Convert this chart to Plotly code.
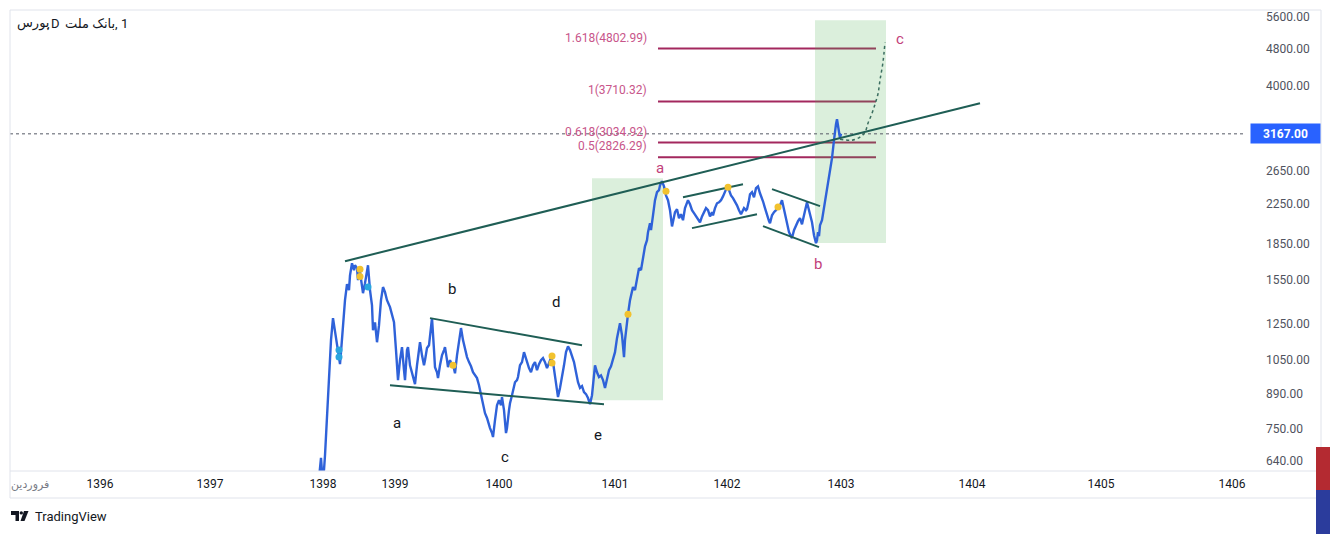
import math
import plotly.graph_objects as go

# ---------------- data ----------------
# time axis is a bar index (TradingView style time scale)
price_bar = [309, 311, 312, 314, 315, 317, 319, 321, 323, 325, 327, 329, 330, 331, 333, 335, 337, 339, 340, 342,
             344, 345, 347, 348, 350, 352, 353, 355, 357, 358, 360, 362, 363, 365, 367, 369, 371, 373, 375, 377,
             380, 382, 384, 386, 388, 390, 392, 394, 395, 397, 398, 400, 402, 405, 407, 409, 410, 412, 414, 415,
             417, 419, 421, 422, 424, 425, 427, 428, 430, 432, 434, 435, 437, 438, 440, 442, 443, 445, 447, 449,
             451, 453, 455, 457, 459, 461, 463, 465, 467, 469, 471, 473, 475, 477, 478, 480, 482, 483, 485, 487,
             489, 491, 492, 494, 496, 497, 499, 500, 502, 503, 505, 507, 508, 510, 512, 514, 515, 517, 519, 521,
             523, 525, 527, 529, 531, 533, 535, 537, 539, 541, 543, 545, 547, 548, 550, 552, 554, 556, 558, 560,
             562, 564, 566, 568, 570, 572, 574, 576, 578, 580, 582, 584, 585, 587, 589, 591, 593, 595, 597, 599,
             601, 603, 605, 607, 609, 610, 612, 613, 614, 615, 617, 618, 620, 622, 623, 625, 627, 629, 631, 633,
             635, 637, 638, 640, 641, 643, 645, 647, 649, 650, 652, 654, 656, 658, 660, 662, 664, 665, 667, 669,
             671, 673, 675, 677, 678, 680, 682, 684, 686, 688, 690, 692, 694, 696, 698, 700, 702, 703, 705, 707,
             709, 711, 713, 715, 717, 719, 721, 723, 725, 727, 729, 731, 732, 734, 736, 737, 739, 740, 742, 744,
             746, 748, 750, 752, 753, 755, 757, 759, 760, 762, 764, 766, 768, 770, 772, 774, 776, 777, 779, 781,
             782, 784, 786, 788, 790, 792, 794, 796, 797, 799, 801, 802, 804, 806, 807, 808, 809, 810, 812, 814,
             816, 817, 819, 821, 822, 824, 825, 826, 827, 828, 829, 830, 831]
price_val = [588, 650, 607, 613, 658, 782, 927, 1156, 1287, 1214, 1127, 1068, 1028, 1090, 1261, 1405, 1519, 1476, 1586, 1683,
             1627, 1666, 1643, 1550, 1611, 1511, 1454, 1527, 1627, 1666, 1476, 1370, 1214, 1261, 1144, 1242, 1405, 1498, 1461, 1405,
             1358, 1305, 1261, 1101, 951, 1048, 1117, 998, 951, 1101, 1117, 1022, 988, 932, 1022, 1127, 1144, 1073, 1022, 1048,
             1112, 1127, 1214, 1287, 1101, 1013, 988, 960, 1022, 1073, 1101, 1117, 1048, 1013, 1048, 1022, 1028, 983, 1073, 1156,
             1226, 1156, 1101, 1064, 1038, 1017, 988, 973, 960, 927, 883, 841, 809, 790, 775, 752, 734, 720, 782, 841,
             862, 841, 875, 821, 734, 752, 821, 849, 883, 906, 941, 951, 965, 1022, 1038, 1090, 1073, 1038, 1008, 988,
             1022, 1038, 998, 1028, 1048, 1059, 1038, 1008, 1038, 1059, 1038, 973, 897, 875, 915, 960, 1022, 1090, 1121, 1101,
             1068, 1038, 988, 941, 915, 923, 897, 888, 871, 845, 883, 988, 1022, 988, 965, 973, 951, 915, 951, 998,
             1017, 1048, 1090, 1167, 1214, 1255, 1184, 1090, 1064, 1156, 1287, 1312, 1405, 1461, 1498, 1476, 1565, 1643, 1627, 1726,
             1828, 1884, 1959, 2046, 1978, 2127, 2290, 2381, 2405, 2463, 2513, 2450, 2345, 2290, 2181, 2015, 2127, 2160, 2192, 2098,
             2138, 2077, 2203, 2267, 2290, 2245, 2181, 2149, 2116, 2077, 2056, 2116, 2160, 2203, 2181, 2116, 2160, 2127, 2203, 2256,
             2267, 2290, 2333, 2381, 2441, 2405, 2345, 2313, 2278, 2233, 2181, 2138, 2160, 2203, 2181, 2192, 2290, 2357, 2381, 2324,
             2429, 2450, 2369, 2313, 2278, 2203, 2127, 2067, 2046, 2127, 2160, 2181, 2214, 2233, 2290, 2181, 2077, 2025, 1959, 1920,
             1903, 1978, 2025, 2067, 2098, 2036, 2127, 2233, 2267, 2181, 2098, 2056, 1929, 1856, 1884, 1959, 1920, 2025, 2077, 2203,
             2333, 2405, 2550, 2715, 2812, 3070, 3256, 3320, 3402, 3302, 3192, 3100, 3167]
last_price = 3167.00

year_bar = [90, 200, 313, 385, 489, 605, 717, 831, 962, 1091, 1222]
year_lbl = ["1396", "1397", "1398", "1399", "1400", "1401", "1402", "1403", "1404", "1405", "1406"]

ytick_val = [640, 750, 890, 1050, 1250, 1550, 1850, 2250, 2650, 3250, 4000, 4800, 5600]

fib_lbl = ["1.618(4802.99)", "1(3710.32)", "0.618(3034.92)", "0.5(2826.29)"]
fib_price = [4802.99, 3710.32, 3034.92, 2826.29]
fib_bar = [648, 866]

# green boxes: (bar0, bar1), (price_low, price_high)
box_bar = [(582, 653), (805, 876)]
box_price = [(862, 2550), (1857, 5518)]

# drawn trend/channel lines: ((bar, price), (bar, price))
trend_lines = [
    ((335, 1700), (970, 3678)),   # long rising trend line
    ((420, 1287), (572, 1127)),   # triangle upper
    ((380, 927), (594, 845)),     # triangle lower
    ((673, 2324), (733, 2475)),   # channel 1 upper
    ((682, 1998), (747, 2138)),   # channel 1 lower
    ((762, 2417), (810, 2225)),   # channel 2 upper
    ((753, 2018), (809, 1821)),   # channel 2 lower
]

proj_bar = [830, 842, 850, 855, 858, 862, 865, 868, 870, 873, 875]
proj_val = [3085, 3070, 3116, 3192, 3335, 3500, 3660, 3850, 4117, 4500, 4955]

yellow_bar = [350, 350, 443, 542, 542, 618, 656, 718, 768]
yellow_val = [1635, 1578, 1022, 1069, 1033, 1311, 2393, 2441, 2214]
cyan_bar = [329, 329, 358]
cyan_val = [1101, 1064, 1498]

wave_lbl = ["a", "b", "c", "d", "e"]
wave_bar = [387, 442, 495, 546, 588]
wave_val = [771, 1483, 653, 1391, 727]

abc_lbl = ["a", "b", "c"]
abc_bar = [650, 808, 890]
abc_val = [2678, 1675, 5046]

# chart legend pieces, left to right as shown: بورس ,Dبانک ملت, 1
legend_exchange = "بورس"
legend_interval = "D"
legend_symbol = "بانک ملت"
legend_num = "1"

# ---------------- styles ----------------
W, H = 1330, 534
ML, MR, MT, MB = 10, 85, 10, 63
PW = W - ML - MR
PH = H - MT - MB
BLUE = "#2f62d9"
TEAL = "#1f5e55"
FIB = "#a3285e"
FIBTXT = "#c8558a"
FRAME = "#e0e3eb"
FONT = "Roboto, 'DejaVu Sans', sans-serif"
TXT = "#131722"


def px_x(px):
    return (px - ML) / PW


def px_y(py):
    return (H - MB - py) / PH


fig = go.Figure()

# fib levels
fx, fy = [], []
for p in fib_price:
    fx += [fib_bar[0], fib_bar[1], None]
    fy += [p, p, None]
fig.add_trace(go.Scatter(x=fx, y=fy, mode="lines", line=dict(color=FIB, width=2), hoverinfo="skip"))

# green boxes
for (b0, b1), (p0, p1) in zip(box_bar, box_price):
    fig.add_trace(go.Scatter(x=[b0, b1, b1, b0, b0], y=[p0, p0, p1, p1, p0], mode="lines",
                             fill="toself", fillcolor="rgba(76,175,80,0.2)", line=dict(width=0),
                             hoverinfo="skip"))

# current price dotted line
fig.add_trace(go.Scatter(x=[0, PW], y=[last_price, last_price], mode="lines",
                         line=dict(color="#555a66", width=1, dash="dot"), hoverinfo="skip"))

# price series
fig.add_trace(go.Scatter(x=price_bar, y=price_val, mode="lines",
                         line=dict(color=BLUE, width=2.4), hoverinfo="skip"))

# trend lines
tx, ty = [], []
for (b0, p0), (b1, p1) in trend_lines:
    tx += [b0, b1, None]
    ty += [p0, p1, None]
fig.add_trace(go.Scatter(x=tx, y=ty, mode="lines", line=dict(color=TEAL, width=2), hoverinfo="skip"))

# projection
fig.add_trace(go.Scatter(x=proj_bar, y=proj_val, mode="lines", line=dict(color="#3b6e60", width=1.5, dash="dot"),
                         line_shape="spline", hoverinfo="skip"))

# dots
fig.add_trace(go.Scatter(x=yellow_bar, y=yellow_val, mode="markers",
                         marker=dict(color="#f2c22e", size=7), hoverinfo="skip"))
fig.add_trace(go.Scatter(x=cyan_bar, y=cyan_val, mode="markers",
                         marker=dict(color="#2aa6df", size=7), hoverinfo="skip"))

ann = []
for t, b, v in zip(wave_lbl, wave_bar, wave_val):
    ann.append(dict(x=b, y=math.log10(v), text=t, showarrow=False, font=dict(family=FONT, size=15, color=TXT)))
for t, b, v in zip(abc_lbl, abc_bar, abc_val):
    ann.append(dict(x=b, y=math.log10(v), text=t, showarrow=False, font=dict(family=FONT, size=15, color="#c2407a")))
for t, p in zip(fib_lbl, fib_price):
    ann.append(dict(x=fib_bar[0] - 9, y=math.log10(p), text=t, showarrow=False, xanchor="right", yanchor="middle",
                    yshift=11, font=dict(family=FONT, size=12, color=FIBTXT)))
# price label
ann.append(dict(xref="paper", x=1, y=math.log10(last_price), xanchor="left", xshift=5, text="<b>%.2f</b>" % last_price,
                showarrow=False, bgcolor="#2962ff", borderpad=3, width=63, height=13,
                font=dict(family=FONT, size=12, color="white")))


# legend pieces (placed one by one so the mixed-direction order is fixed)
def legend_piece(text, px, anchor):
    ann.append(dict(xref="paper", yref="paper", x=px_x(px), y=px_y(23), xanchor=anchor, yanchor="middle",
                    text=text, showarrow=False, borderpad=0, borderwidth=0,
                    font=dict(family=FONT, size=13, color=TXT)))


legend_piece(legend_exchange, 17, "left")
legend_piece(",", 47, "left")
legend_piece(legend_interval, 51, "left")
legend_piece(legend_symbol, 115, "right")
legend_piece(",", 115, "left")
legend_piece(legend_num, 121, "left")

# month label at left edge
ann.append(dict(xref="paper", yref="paper", x=px_x(9), y=px_y(484), xanchor="left", yanchor="middle",
                text="فروردین", showarrow=False, font=dict(family=FONT, size=11, color="#787b86")))
# TradingView text
ann.append(dict(xref="paper", yref="paper", x=px_x(33), y=px_y(516), xanchor="left", yanchor="middle",
                text="TradingView", showarrow=False, font=dict(family=FONT, size=13, color=TXT)))

shapes = []


def hline(py, x0, x1):
    shapes.append(dict(type="line", xref="paper", yref="paper", x0=px_x(x0), x1=px_x(x1), y0=px_y(py), y1=px_y(py),
                       line=dict(color=FRAME, width=1)))


def vline(px, y0, y1):
    shapes.append(dict(type="line", xref="paper", yref="paper", x0=px_x(px), x1=px_x(px), y0=px_y(y0), y1=px_y(y1),
                       line=dict(color=FRAME, width=1)))


hline(10, 10, 1321)
hline(471, 10, 1321)
hline(498, 10, 1321)
vline(10, 10, 498)
vline(1321, 10, 498)

# side colour bars at right edge
shapes.append(dict(type="rect", xref="paper", yref="paper", x0=px_x(1316), x1=px_x(1331), y0=px_y(490), y1=px_y(447),
                   fillcolor="#b42a31", line=dict(width=0)))
shapes.append(dict(type="rect", xref="paper", yref="paper", x0=px_x(1316), x1=px_x(1331), y0=px_y(535), y1=px_y(490),
                   fillcolor="#2b3c9c", line=dict(width=0)))

# TradingView logo
LOGO = TXT
shapes.append(dict(type="rect", xref="paper", yref="paper", x0=px_x(11), x1=px_x(19), y0=px_y(515), y1=px_y(511),
                   fillcolor=LOGO, line=dict(width=0)))
shapes.append(dict(type="rect", xref="paper", yref="paper", x0=px_x(15.5), x1=px_x(19), y0=px_y(521), y1=px_y(511),
                   fillcolor=LOGO, line=dict(width=0)))
shapes.append(dict(type="circle", xref="paper", yref="paper", x0=px_x(19.6), x1=px_x(23), y0=px_y(514.6), y1=px_y(511.2),
                   fillcolor=LOGO, line=dict(width=0)))
pts = [(24, 511), (28.5, 511), (24.5, 521), (20.5, 521)]
path = "M " + " L ".join("%f,%f" % (px_x(a), px_y(b)) for a, b in pts) + " Z"
shapes.append(dict(type="path", xref="paper", yref="paper", path=path, fillcolor=LOGO, line=dict(width=0)))

lo, hi = math.log10(609.8), math.log10(5800)
fig.update_layout(
    width=W, height=H,
    margin=dict(l=ML, r=MR, t=MT, b=MB, autoexpand=False),
    paper_bgcolor="white", plot_bgcolor="white",
    showlegend=False,
    annotations=ann, shapes=shapes,
    xaxis=dict(range=[0, PW], tickvals=year_bar, ticktext=year_lbl, showgrid=False, zeroline=False,
               showline=False, ticks="", ticklabelstandoff=4, tickfont=dict(family=FONT, size=12, color=TXT),
               fixedrange=True, automargin=False),
    yaxis=dict(type="log", range=[lo, hi], side="right", tickvals=ytick_val,
               ticktext=["%.2f" % v for v in ytick_val], showgrid=False, zeroline=False, showline=False,
               ticks="", ticklabelstandoff=20, tickfont=dict(family=FONT, size=12, color="#50535e"),
               fixedrange=True, automargin=False),
)

fig.write_html("out.html", config={"displayModeBar": False},
               post_script="document.body.style.margin='0px';document.body.style.overflow='hidden';")
